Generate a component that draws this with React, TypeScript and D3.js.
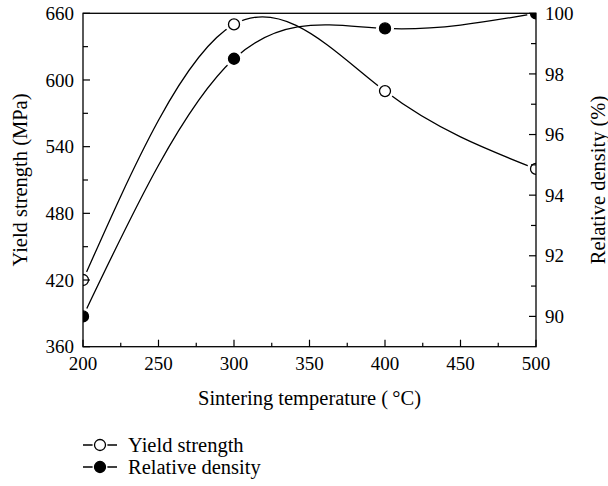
import { useMemo } from 'react'
import * as d3 from 'd3'

const TEMPS = [200, 300, 400, 500]
const YIELD_STRENGTH = [420, 650, 590, 520]
const RELATIVE_DENSITY = [90, 98.5, 99.5, 100]

const X_TICKS = [200, 250, 300, 350, 400, 450, 500]
const X_MINOR = [225, 275, 325, 375, 425, 475]
const Y_TICKS = [360, 420, 480, 540, 600, 660]
const Y_MINOR = [390, 450, 510, 570, 630]
const Y2_TICKS = [90, 92, 94, 96, 98, 100]
const Y2_MINOR = [91, 93, 95, 97, 99]

const WIDTH = 608
const HEIGHT = 486
const MARGIN = { top: 13.3, right: 72, bottom: 139.3, left: 83 }
const FONT = '"Liberation Serif", "Times New Roman", serif'
const FS = 19
const TITLE_FS = 20.5
const R = 5.5

export default function App() {
  const plotW = WIDTH - MARGIN.left - MARGIN.right
  const plotH = HEIGHT - MARGIN.top - MARGIN.bottom

  const x = d3.scaleLinear().domain([200, 500]).range([0, plotW])
  const y = d3.scaleLinear().domain([360, 660]).range([plotH, 0])
  const y2 = d3.scaleLinear().domain([89, 100]).range([plotH, 0])

  const series = useMemo(() => [
    { name: 'Yield strength', values: YIELD_STRENGTH, scale: y, filled: false },
    { name: 'Relative density', values: RELATIVE_DENSITY, scale: y2, filled: true }
  ], [])

  const lineFor = (s) =>
    d3.line<number>()
      .x((_, i) => x(TEMPS[i]))
      .y(d => s.scale(d))
      .curve(d3.curveNatural)(s.values)

  return (
    <svg width={WIDTH} height={HEIGHT} style={{ position: 'absolute', left: 0, top: 0, background: '#fff' }}
      fontFamily={FONT} fontSize={FS}>
      <defs>
        <clipPath id="plot-clip">
          <rect x={0} y={0} width={plotW} height={plotH} />
        </clipPath>
      </defs>
      <g transform={`translate(${MARGIN.left},${MARGIN.top})`}>
        <g clipPath="url(#plot-clip)">
          {/* curves */}
          {series.map(s => (
            <path key={s.name} d={lineFor(s)} fill="none" stroke="#000" strokeWidth={1.3} />
          ))}
          {/* white halo so the lines stop short of the markers */}
          {series.map(s => s.values.map((v, i) => (
            <circle key={`${s.name}-h-${i}`} cx={x(TEMPS[i])} cy={s.scale(v)} r={R + 3.5} fill="#fff" />
          )))}
          {series.map(s => s.values.map((v, i) => (
            <circle key={`${s.name}-m-${i}`} cx={x(TEMPS[i])} cy={s.scale(v)} r={R}
              fill={s.filled ? '#000' : '#fff'} stroke="#000" strokeWidth={1.3} />
          )))}
        </g>

        {/* frame */}
        <rect x={0} y={0} width={plotW} height={plotH} fill="none" stroke="#000" strokeWidth={1.3} />

        {/* bottom axis ticks */}
        {X_TICKS.map(t => (
          <g key={`x${t}`}>
            <line x1={x(t)} x2={x(t)} y1={plotH} y2={plotH - 7} stroke="#000" strokeWidth={1.2} />
            <text x={x(t)} y={plotH + 23} textAnchor="middle">{t}</text>
          </g>
        ))}
        {X_MINOR.map(t => (
          <line key={`xm${t}`} x1={x(t)} x2={x(t)} y1={plotH} y2={plotH - 4} stroke="#000" strokeWidth={1.2} />
        ))}

        {/* left axis ticks */}
        {Y_TICKS.map(t => (
          <g key={`y${t}`}>
            <line x1={0} x2={7} y1={y(t)} y2={y(t)} stroke="#000" strokeWidth={1.2} />
            <text x={-9} y={y(t)} dy="0.35em" textAnchor="end">{t}</text>
          </g>
        ))}
        {Y_MINOR.map(t => (
          <line key={`ym${t}`} x1={0} x2={5} y1={y(t)} y2={y(t)} stroke="#000" strokeWidth={1.2} />
        ))}

        {/* right axis ticks */}
        {Y2_TICKS.map(t => (
          <g key={`y2${t}`}>
            <line x1={plotW} x2={plotW - 7} y1={y2(t)} y2={y2(t)} stroke="#000" strokeWidth={1.2} />
            <text x={plotW + 9} y={y2(t)} dy="0.35em" textAnchor="start">{t}</text>
          </g>
        ))}
        {Y2_MINOR.map(t => (
          <line key={`y2m${t}`} x1={plotW} x2={plotW - 5} y1={y2(t)} y2={y2(t)} stroke="#000" strokeWidth={1.2} />
        ))}

        {/* axis titles */}
        <text x={plotW / 2} y={plotH + 58} textAnchor="middle" fontSize={TITLE_FS}>Sintering temperature ({'\u2009'}°C)</text>
        <text transform={`translate(${-MARGIN.left + 20},${plotH / 2}) rotate(-90)`} textAnchor="middle"
          dy="0.35em" fontSize={TITLE_FS}>Yield strength (MPa)</text>
        <text transform={`translate(${plotW + 62},${plotH / 2}) rotate(-90)`} textAnchor="middle"
          dy="0.35em" fontSize={TITLE_FS}>Relative density (%)</text>
      </g>

      {/* legend */}
      {series.map((s, i) => {
        const cy = 445 + i * 22
        return (
          <g key={`lg-${s.name}`}>
            <line x1={83} x2={117} y1={cy} y2={cy} stroke="#000" strokeWidth={1.3} />
            <circle cx={100} cy={cy} r={R + 2} fill="#fff" />
            <circle cx={100} cy={cy} r={R} fill={s.filled ? '#000' : '#fff'} stroke="#000" strokeWidth={1.3} />
            <text x={128} y={cy} dy="0.35em" fontSize={TITLE_FS}>{s.name}</text>
          </g>
        )
      })}
    </svg>
  )
}
